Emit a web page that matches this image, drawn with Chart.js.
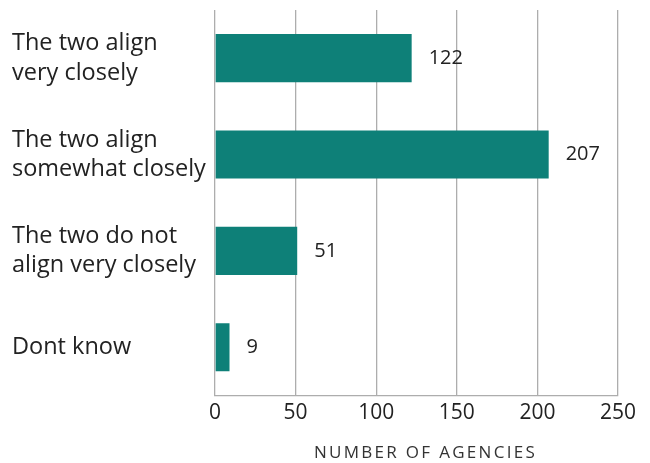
<!DOCTYPE html>
<html>
<head>
<meta charset="utf-8">
<script src="https://cdn.jsdelivr.net/npm/chart.js@4.4.0/dist/chart.umd.min.js"></script>
<style>
  html, body { margin: 0; padding: 0; background: #fff; }
  #wrap { width: 650px; height: 463px; }
</style>
</head>
<body>
<div id="wrap"><canvas id="myChart" width="650" height="463"></canvas></div>
<script>
// values
const categories = [
    ['The two align', 'very closely'],
    ['The two align', 'somewhat closely'],
    ['The two do not', 'align very closely'],
    'Dont know'
];
const agencies = [122, 207, 51, 9];
const xTicks = [0, 50, 100, 150, 200, 250];
const xTitle = 'NUMBER OF AGENCIES';

const fontName = '"Open Sans", Lato, sans-serif';

// draws the number next to each bar
const barValues = {
    id: 'barValues',
    afterDatasetsDraw(chart) {
        const ctx = chart.ctx;
        const meta = chart.getDatasetMeta(0);
        ctx.save();
        ctx.font = '20px ' + fontName;
        ctx.fillStyle = '#222';
        ctx.textAlign = 'left';
        ctx.textBaseline = 'middle';
        meta.data.forEach(function(bar, i) {
            ctx.fillText(String(agencies[i]), bar.x + 17, bar.y);
        });
        ctx.restore();
    }
};

// the axis title is spaced out and sits a bit right of the plot centre
const spacedTitle = {
    id: 'spacedTitle',
    afterLayout(chart) {
        const sc = chart.scales.x;
        if (sc._spaced) return;
        const orig = sc.drawTitle.bind(sc);
        sc.drawTitle = function() {
            const c = sc.ctx;
            c.save();
            c.letterSpacing = '2.3px';
            c.translate(9, 0);
            orig();
            c.restore();
        };
        sc._spaced = true;
    }
};

const ctx = document.getElementById('myChart').getContext('2d');
const myChart = new Chart(ctx, {
    type: 'bar',
    data: {
        labels: categories,
        datasets: [{
            label: 'Agencies',
            data: agencies,
            backgroundColor: '#0e8078',
            borderWidth: 0,
            barPercentage: 0.5,
            categoryPercentage: 1
        }]
    },
    options: {
        indexAxis: 'y',
        responsive: false,
        animation: false,
        layout: {
            padding: { left: 12, right: 32, top: 10, bottom: 0 }
        },
        plugins: {
            legend: { display: false },
            tooltip: { enabled: false }
        },
        scales: {
            x: {
                min: 0,
                max: 250,
                afterBuildTicks: function(axis) {
                    axis.ticks = xTicks.map(v => ({ value: v }));
                },
                grid: {
                    color: '#adadad',
                    lineWidth: 1.3,
                    drawTicks: false
                },
                border: { color: '#adadad', width: 1.3 },
                ticks: {
                    color: '#222',
                    padding: 5,
                    font: { family: fontName, size: 21 }
                },
                title: {
                    display: true,
                    text: xTitle,
                    color: '#333',
                    padding: { top: 12, bottom: 0 },
                    font: { family: fontName, size: 17 }
                }
            },
            y: {
                grid: { display: false, drawTicks: false },
                border: { display: false },
                afterFit: function(axis) {
                    axis.width = 203;
                    axis.paddingTop = 0;
                    axis.paddingBottom = 0;
                },
                ticks: {
                    crossAlign: 'far',
                    color: '#222',
                    padding: 0,
                    font: { family: fontName, size: 23.5, lineHeight: 1.25 }
                }
            }
        }
    },
    plugins: [barValues, spacedTitle]
});
</script>
</body>
</html>
